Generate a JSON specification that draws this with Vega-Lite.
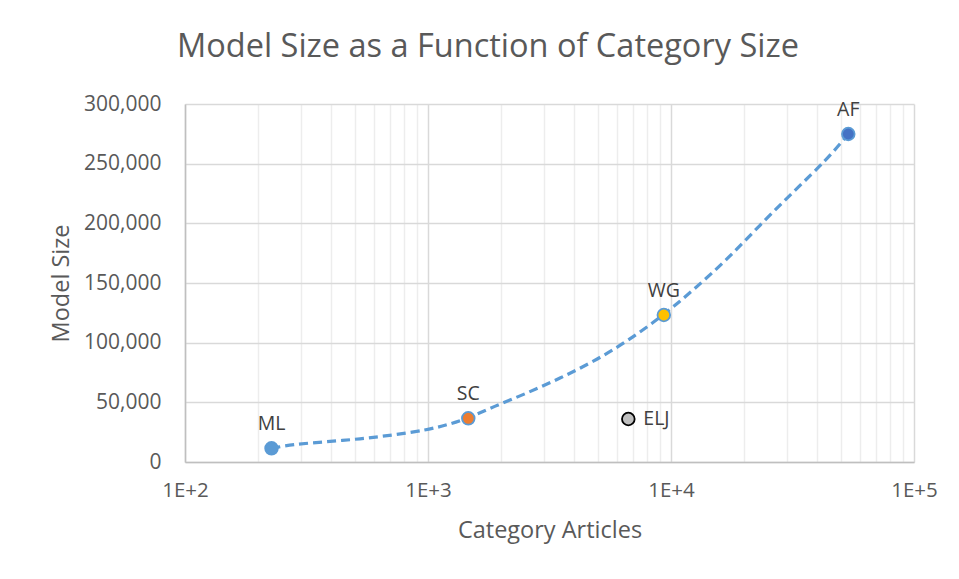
{
  "$schema": "https://vega.github.io/schema/vega-lite/v6.json",
  "width": 729,
  "height": 358,
  "autosize": "none",
  "padding": {"left": 185, "top": 104, "right": 45, "bottom": 117},
  "background": "white",
  "config": {
    "font": "Open Sans",
    "view": {"stroke": null}
  },
  "title": {
    "text": "Model Size as a Function of Category Size",
    "fontSize": 32.5,
    "fontWeight": "normal",
    "color": "#595959",
    "anchor": "start",
    "frame": "group",
    "dx": -8,
    "offset": 30
  },
  "datasets": {
    "points": [
      {"name": "ML", "articles": 227, "size": 11480},
      {"name": "SC", "articles": 1465, "size": 36620},
      {"name": "ELJ", "articles": 6674, "size": 36030},
      {"name": "WG", "articles": 9342, "size": 123190},
      {"name": "AF", "articles": 53650, "size": 274860}
    ],
    "trend": [
      {"articles": 227, "size": 11480},
      {"articles": 279, "size": 14830},
      {"articles": 383, "size": 17010},
      {"articles": 525, "size": 19270},
      {"articles": 720, "size": 22630},
      {"articles": 988, "size": 26820},
      {"articles": 1194, "size": 31000},
      {"articles": 1465, "size": 36620},
      {"articles": 1857, "size": 46340},
      {"articles": 2548, "size": 57570},
      {"articles": 3493, "size": 70140},
      {"articles": 4789, "size": 84050},
      {"articles": 6573, "size": 100810},
      {"articles": 9342, "size": 123190},
      {"articles": 12350, "size": 144140},
      {"articles": 16950, "size": 169280},
      {"articles": 23240, "size": 198610},
      {"articles": 31870, "size": 226510},
      {"articles": 43710, "size": 253080},
      {"articles": 53650, "size": 274860}
    ]
  },
  "encoding": {
    "x": {
      "field": "articles",
      "type": "quantitative",
      "scale": {"type": "log", "domain": [100, 100000], "nice": false},
      "axis": {
        "title": "Category Articles",
        "titleFont": "Open Sans",
        "titleFontSize": 23.5,
        "titleFontWeight": "normal",
        "titleColor": "#595959",
        "titlePadding": 18,
        "values": [100, 200, 300, 400, 500, 600, 700, 800, 900, 1000, 2000, 3000, 4000, 5000, 6000, 7000, 8000, 9000, 10000, 20000, 30000, 40000, 50000, 60000, 70000, 80000, 90000, 100000],
        "labelExpr": "datum.value == 100 ? '1E+2' : datum.value == 1000 ? '1E+3' : datum.value == 10000 ? '1E+4' : datum.value == 100000 ? '1E+5' : ''",
        "labelFontSize": 20.5,
        "labelColor": "#595959",
        "labelPadding": 18,
        "labelFlush": false,
        "labelOverlap": false,
        "ticks": false,
        "domainColor": "#BFBFBF",
        "domainWidth": 1.5,
        "grid": true,
        "gridColor": {"condition": {"test": "datum.value == 100 || datum.value == 1000 || datum.value == 10000 || datum.value == 100000", "value": "#D9D9D9"}, "value": "#EDEDED"},
        "gridWidth": 1.5
      }
    },
    "y": {
      "field": "size",
      "type": "quantitative",
      "scale": {"domain": [0, 300000], "nice": false},
      "axis": {
        "title": "Model Size",
        "titleFont": "Open Sans",
        "titleFontSize": 23.5,
        "titleFontWeight": "normal",
        "titleColor": "#595959",
        "titlePadding": 10,
        "values": [0, 50000, 100000, 150000, 200000, 250000, 300000],
        "format": ",.0f",
        "labelFontSize": 21,
        "labelColor": "#595959",
        "labelPadding": 24,
        "ticks": false,
        "domainColor": "#BFBFBF",
        "domainWidth": 1.5,
        "grid": true,
        "gridColor": "#D9D9D9",
        "gridWidth": 1.5
      }
    }
  },
  "layer": [
    {
      "data": {"name": "trend"},
      "mark": {"type": "line", "color": "#5B9BD5", "strokeWidth": 3.2, "strokeDash": [9, 5], "interpolate": "basis"},
      "encoding": {}
    },
    {
      "data": {"name": "points"},
      "mark": {"type": "point", "filled": false, "opacity": 1, "strokeWidth": 1.8, "size": 160},
      "encoding": {
        "fill": {"field": "name", "type": "nominal", "legend": null,
          "scale": {"domain": ["ML", "SC", "ELJ", "WG", "AF"], "range": ["#5B9BD5", "#ED7D31", "#BFBFBF", "#FFC000", "#4472C4"]}},
        "stroke": {"field": "name", "type": "nominal", "legend": null,
          "scale": {"domain": ["ML", "SC", "ELJ", "WG", "AF"], "range": ["#5B9BD5", "#5B9BD5", "#000000", "#5B9BD5", "#5B9BD5"]}}
      }
    },
    {
      "data": {"name": "points"},
      "transform": [{"filter": "datum.name != 'ELJ'"}],
      "mark": {"type": "text", "fontSize": 19.5, "color": "#404040", "dy": -24, "baseline": "middle"},
      "encoding": {"text": {"field": "name"}}
    },
    {
      "data": {"name": "points"},
      "transform": [{"filter": "datum.name == 'ELJ'"}],
      "mark": {"type": "text", "fontSize": 19.5, "color": "#404040", "dx": 15, "align": "left", "baseline": "middle"},
      "encoding": {"text": {"field": "name"}}
    }
  ]
}
